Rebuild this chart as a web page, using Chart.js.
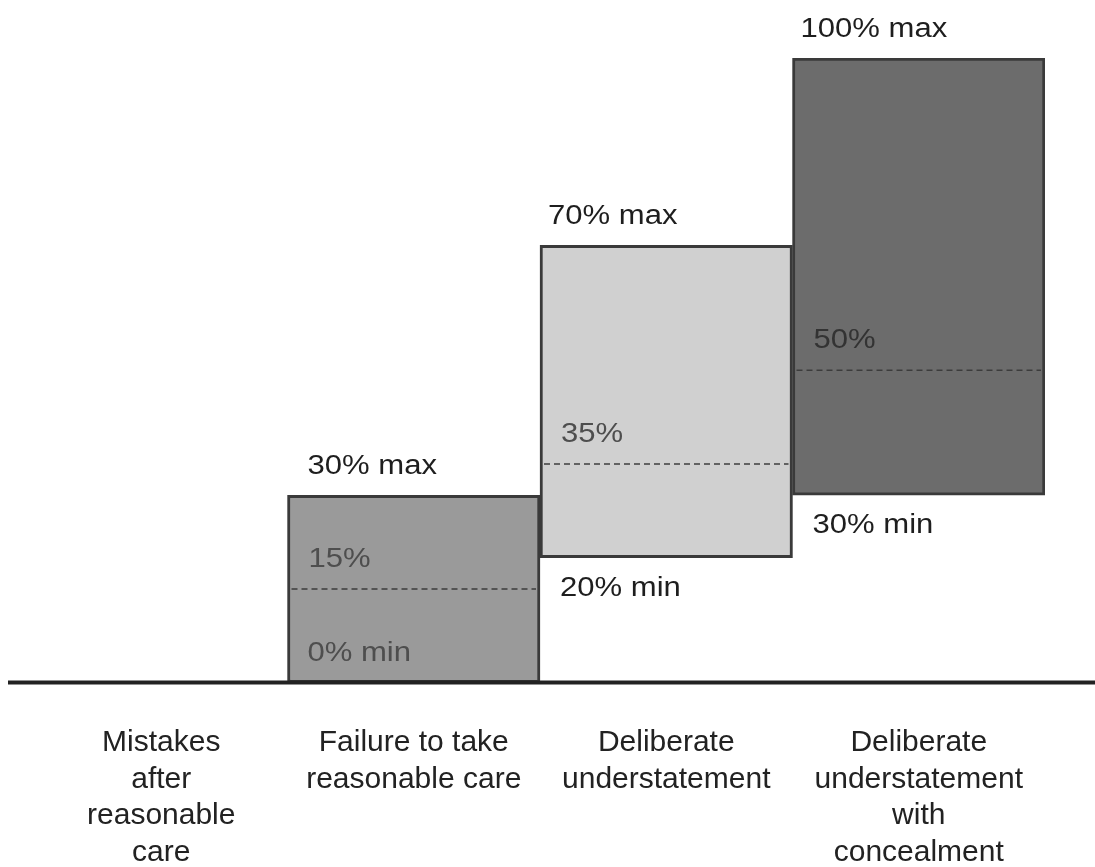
<!DOCTYPE html>
<html>
<head>
<meta charset="utf-8">
<script src="https://cdn.jsdelivr.net/npm/chart.js@4"></script>
<style>
  html, body { margin: 0; padding: 0; background: #fff; }
  #wrap { width: 1095px; height: 867px; }
</style>
</head>
<body>
<div id="wrap"><canvas id="c" width="1095" height="867"></canvas></div>
<script>
// Penalty bands by type of behaviour (percent of potential lost revenue)
const categories = [
  ["Mistakes", "after", "reasonable", "care"],
  ["Failure to take", "reasonable care"],
  ["Deliberate", "understatement"],
  ["Deliberate", "understatement", "with", "concealment"]
];
const minPct = [null, 0, 20, 30];
const maxPct = [null, 30, 70, 100];
const midPct = [null, 15, 35, 50];

const fills = ["#9a9a9a", "#9a9a9a", "#d0d0d0", "#6c6c6c"];
const maxLabelInset = [20, 20, 8, 8];

const FONT = '"Liberation Sans", Arial, sans-serif';

function stretchedText(ctx, text, x, y) {
  ctx.save();
  ctx.translate(x, y);
  ctx.scale(1.15, 1);
  ctx.fillText(text, 0, 0);
  ctx.restore();
}

const bandAnnotations = {
  id: 'bandAnnotations',
  afterDatasetsDraw(chart) {
    const ctx = chart.ctx;
    const y = chart.scales.y;
    const meta = chart.getDatasetMeta(0);
    ctx.save();
    ctx.textAlign = 'left';
    ctx.textBaseline = 'alphabetic';
    ctx.font = '27px ' + FONT;
    meta.data.forEach((bar, i) => {
      if (minPct[i] == null) return;
      const p = bar.getProps(['x', 'y', 'base', 'width'], true);
      const left = p.x - p.width / 2;
      const right = p.x + p.width / 2;
      const top = y.getPixelForValue(maxPct[i]);
      const bottom = y.getPixelForValue(minPct[i]);
      const mid = y.getPixelForValue(midPct[i]);

      // dashed midpoint line
      ctx.save();
      ctx.strokeStyle = '#3c3c3c';
      ctx.lineWidth = 1.5;
      ctx.setLineDash([6, 4]);
      ctx.beginPath();
      ctx.moveTo(left + 4, mid);
      ctx.lineTo(right - 4, mid);
      ctx.stroke();
      ctx.restore();

      // max label above the band
      ctx.fillStyle = '#1e1e1e';
      stretchedText(ctx, maxPct[i] + '% max', left + maxLabelInset[i], top - 21);

      // midpoint label
      ctx.fillStyle = i === 3 ? '#333333' : '#4e4e4e';
      stretchedText(ctx, midPct[i] + '%', left + 21, mid - 22);

      // min label: inside when the band starts at zero, otherwise below it
      if (minPct[i] === 0) {
        ctx.fillStyle = '#4e4e4e';
        stretchedText(ctx, minPct[i] + '% min', left + 20, bottom - 22);
      } else {
        ctx.fillStyle = '#1e1e1e';
        stretchedText(ctx, minPct[i] + '% min', left + 20, bottom + 38);
      }
    });

    // ground line
    const y0 = y.getPixelForValue(0);
    ctx.strokeStyle = '#222222';
    ctx.lineWidth = 4;
    ctx.beginPath();
    ctx.moveTo(8, y0);
    ctx.lineTo(1095, y0);
    ctx.stroke();
    ctx.restore();
  }
};

new Chart(document.getElementById('c'), {
  type: 'bar',
  data: {
    labels: categories,
    datasets: [{
      data: categories.map((_, i) => minPct[i] == null ? null : [minPct[i], maxPct[i]]),
      backgroundColor: fills,
      borderColor: '#3a3a3a',
      borderWidth: 3,
      borderSkipped: false,
      barPercentage: 1.0,
      categoryPercentage: 1.0
    }]
  },
  options: {
    responsive: false,
    animation: false,
    events: [],
    layout: { padding: { top: 58, left: 35, right: 50, bottom: -46 } },
    plugins: {
      legend: { display: false },
      tooltip: { enabled: false }
    },
    scales: {
      x: {
        grid: { display: false, drawTicks: false },
        border: { display: false },
        ticks: {
          padding: 42,
          color: '#222222',
          maxRotation: 0,
          autoSkip: false,
          font: { family: FONT, size: 30, lineHeight: 1.22 }
        }
      },
      y: {
        display: false,
        min: 0,
        max: 100
      }
    }
  },
  plugins: [bandAnnotations]
});
</script>
</body>
</html>
